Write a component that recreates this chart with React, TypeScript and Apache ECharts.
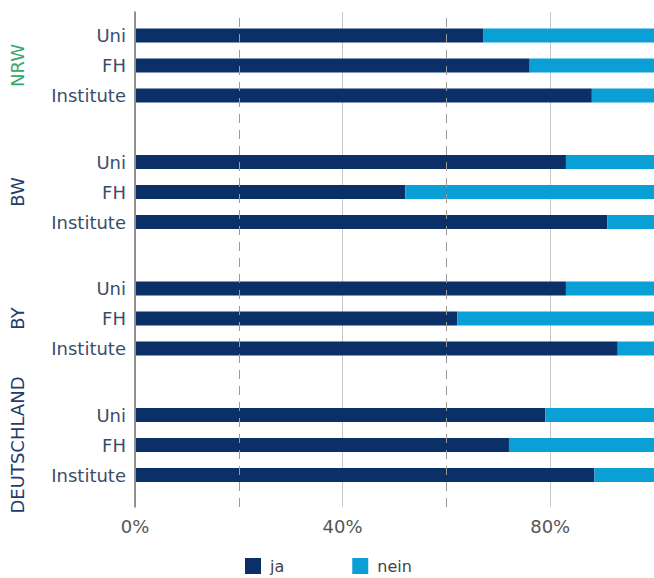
import { useEffect, useRef } from 'react';
import * as echarts from 'echarts';

const categories = ['Uni', 'FH', 'Institute'];
const groupNames = ['NRW', 'BW', 'BY', 'DEUTSCHLAND'];

const jaNRW = [67, 76, 88];
const neinNRW = [33, 24, 12];
const jaBW = [83, 52, 91];
const neinBW = [17, 48, 9];
const jaBY = [83, 62, 93];
const neinBY = [17, 38, 7];
const jaDE = [79, 72, 88.5];
const neinDE = [21, 28, 11.5];

const xTickLabels = [0, 40, 80];
const dashedGridValues = [20, 60];

const jaByGroup = [jaNRW, jaBW, jaBY, jaDE];
const neinByGroup = [neinNRW, neinBW, neinBY, neinDE];

const FONT = 'DejaVu Sans';
const JA_COLOR = '#0b3068';
const NEIN_COLOR = '#0aa0d6';
const groupTops = [20.5, 147, 273.5, 400];
const groupNameColors = ['#3aa76d', '#1e3c6c', '#1e3c6c', '#1e3c6c'];

export default function App() {
  const ref = useRef<HTMLDivElement>(null);
  useEffect(() => {
    if (!ref.current) return;
    const chart = echarts.init(ref.current, undefined, { renderer: 'svg' });

    const grids: any[] = [
      { left: 135, right: -3, top: 12, height: 495 },
      ...groupTops.map((t) => ({ left: 135, right: -3, top: t, height: 90 })),
    ];

    const xAxes: any[] = [
      {
        gridIndex: 0,
        type: 'value',
        min: 0,
        max: 100,
        interval: 40,
        axisLine: { show: false },
        axisTick: { show: false },
        splitLine: { show: true, lineStyle: { color: '#c6c6c6', width: 1 } },
        axisLabel: {
          showMaxLabel: false,
          margin: 10,
          fontSize: 18,
          color: '#555',
          fontFamily: FONT,
          formatter: (v: number) => (xTickLabels.includes(v) ? v + '%' : ''),
        },
      },
      ...groupNames.map((_, g) => ({
        gridIndex: g + 1,
        type: 'value',
        min: 0,
        max: 100,
        show: false,
      })),
    ];

    const yAxes: any[] = [
      {
        gridIndex: 0,
        type: 'value',
        min: 0,
        max: 1,
        axisLine: { show: true, lineStyle: { color: '#777', width: 1.5 } },
        axisTick: { show: false },
        axisLabel: { show: false },
        splitLine: { show: false },
      },
      ...groupNames.map((name, g) => ({
        gridIndex: g + 1,
        type: 'category',
        data: categories,
        inverse: true,
        axisLine: { show: false },
        axisTick: { show: false },
        splitLine: { show: false },
        axisLabel: { fontSize: 18, color: '#3c4e6b', fontFamily: FONT, margin: 10 },
        name,
        nameLocation: 'middle',
        nameRotate: 90,
        nameGap: 110,
        nameTextStyle: { fontSize: 18, color: groupNameColors[g], fontFamily: FONT },
      })),
    ];

    const series: any[] = [
      {
        type: 'line',
        xAxisIndex: 0,
        yAxisIndex: 0,
        data: [],
        markLine: {
          silent: true,
          symbol: 'none',
          label: { show: false },
          lineStyle: { type: [9, 7], color: '#9a9a9a', width: 1 },
          data: dashedGridValues.map((v) => ({ xAxis: v })),
        },
      },
    ];
    groupNames.forEach((_, g) => {
      series.push({
        type: 'bar',
        name: 'ja',
        xAxisIndex: g + 1,
        yAxisIndex: g + 1,
        stack: 'g' + g,
        barWidth: 14,
        data: jaByGroup[g],
        itemStyle: { color: JA_COLOR },
      });
      series.push({
        type: 'bar',
        name: 'nein',
        xAxisIndex: g + 1,
        yAxisIndex: g + 1,
        stack: 'g' + g,
        barWidth: 14,
        data: neinByGroup[g],
        itemStyle: { color: NEIN_COLOR },
      });
    });

    chart.setOption({
      animation: false,
      backgroundColor: '#fff',
      textStyle: { fontFamily: FONT },
      grid: grids,
      xAxis: xAxes,
      yAxis: yAxes,
      legend: {
        data: ['ja', 'nein'],
        left: 245,
        top: 557,
        padding: 0,
        icon: 'rect',
        itemWidth: 16,
        itemHeight: 16,
        itemGap: 68,
        textStyle: { fontSize: 16, lineHeight: 18, color: '#444', fontFamily: FONT, padding: [0, 0, 0, 4] },
      },
      series,
    });
    return () => chart.dispose();
  }, []);

  return (
    <div
      ref={ref}
      style={{ position: 'fixed', left: 0, top: 0, width: 654, height: 578, background: '#fff' }}
    />
  );
}
